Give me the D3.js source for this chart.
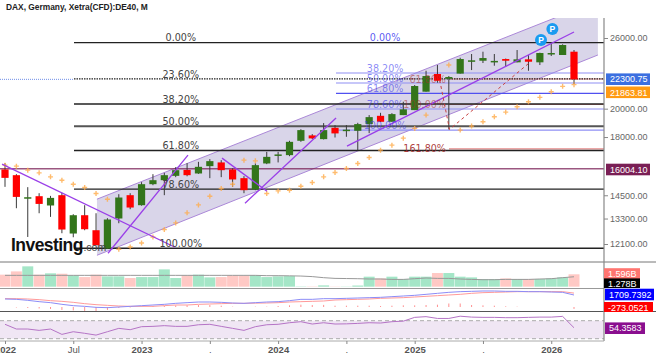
<!DOCTYPE html>
<html lang="en">
<head>
  <meta charset="UTF-8">
  <title>DAX, Germany, Xetra(CFD):DE40, M</title>
  <script src="https://d3js.org/d3.v7.min.js"></script>
  <style>
    body { margin: 0; background: #fff; }
    svg { display: block; }
    text { font-family: "Liberation Sans", Arial, sans-serif; }
    .fib { font-family: "DejaVu Sans", sans-serif; font-size: 9.6px; }
    .axis-label { font-size: 9px; fill: #666; }
    .tag { font-size: 9px; fill: #fff; }
  </style>
</head>
<body>
  <svg width="656" height="355"></svg>

  <script>
    // monthly bars, Jan 2022 - Mar 2026 (index 0..50)
    const opens = [15958,15623,14343,14450,13960,14505,12580,13465,12735,11898,13302,14505,13975,15109,15335,15584,15933,15722,16156,16380,15958,15451,14815,16318,16830,16830,17750,18109,17860,18626,18437,18421,18886,19476,19048,19527,19893,21300,22745,22350,22780,23896,23896,23850,24047,23755,24020,23755,24500,24410,24710];
    const highs = [16336,15682,14943,14612,14467,14628,13515,13975,13564,13317,14558,14612,15223,15682,15759,16094,16336,16416,16583,16520,16030,15566,16318,17037,17037,17750,18530,18195,18957,18816,18816,18977,19527,19695,19670,20522,21834,23023,23517,22575,24164,24500,24710,24500,24090,24865,24410,24620,25588,25398,24865];
    const lows = [14960,13819,12420,13564,13382,12594,12407,12735,12045,11880,13070,13769,13950,15053,14505,15509,15560,15700,15451,15509,14960,14612,14776,16276,16380,16765,17682,17860,17840,17970,18016,17144,18263,19048,19048,19527,19893,21300,22019,18518,22780,23083,23693,23456,23370,23755,23023,23517,24317,24410,21916];
    const closes = [15468,14412,14395,14042,14360,12768,13465,12782,12045,13252,14380,13855,15109,15335,15623,15916,15623,16115,16459,15916,15376,14776,16216,16723,16874,17682,18469,17909,18469,18244,18500,18886,19381,19048,19600,19948,21754,22575,22182,22491,24047,23932,24135,23880,23896,24020,23807,24590,24590,25332,22300.75];

    // parabolic SAR
    const sar = [16216,16156,15916,15759,15525,15335,15109,14925,14597,14290,11867,11968,12147,12420,12768,13086,13583,13991,14450,14869,15109,16520,16476,14597,14737,14776,14997,15205,15525,15782,16016,16318,16687,17144,17467,17927,18585,19527,null,23517,18469,18746,19048,19404,19747,20140,20522,20857,21300,21727,21863.81];

    // volume panel (billions)
    const volumes = [1.55,1.97,2.62,1.55,1.72,1.67,1.46,1.24,1.55,1.33,1.33,1.12,1.24,1.24,2.23,1.12,1.46,1.55,1.2,1.24,1.46,1.42,1.5,1.24,1.33,1.37,0.04,0.04,0.17,0.03,0.03,0.15,1.29,1.07,1.29,0.99,1.29,1.29,1.76,1.76,1.29,1.2,0.99,0.99,1.07,0.99,0.99,0.99,1.07,1.2,1.596];
    const volumeAvg = [1.46,1.46,1.46,1.46,1.46,1.46,1.46,1.46,1.46,1.46,1.46,1.46,1.46,1.46,1.46,1.46,1.46,1.46,1.46,1.46,1.46,1.46,1.46,1.42,1.42,1.4,1.37,1.3,1.16,1.07,1.05,1.03,0.99,0.99,0.94,0.94,1.03,1.12,1.07,1.07,0.99,0.94,0.9,0.9,0.94,0.94,0.94,0.99,1.03,1.16,1.278];

    // MACD panel
    const macd = [1140,1092,950,760,617,380,190,95,-47,-95,0,95,190,285,380,522,617,712,712,665,570,522,617,712,760,902,1092,1092,1187,1187,1235,1282,1330,1377,1472,1567,1662,1805,1947,2090,2185,2232,2280,2280,2232,2232,2185,2185,2137,2090,1709.74];
    const signal = [1187,1187,1140,1045,902,807,665,475,332,237,142,95,95,95,190,285,285,380,427,475,522,522,546,570,617,712,760,807,855,997,1045,1092,1140,1235,1282,1330,1425,1520,1615,1710,1805,1947,2042,2090,2137,2185,2185,2185,2185,2185,1983];
    const macdHist = [0,-70,-140,-210,-280,-420,-480,-560,-720,-420,-140,-70,70,140,170,230,250,280,280,190,50,0,50,50,140,240,330,280,300,190,190,190,190,140,190,240,240,285,330,500,500,285,240,190,95,47,0,0,0,0,-273.05];

    // RSI panel
    const rsi = [62,51.5,51.5,48.5,51.5,39.6,45.5,42,38,45.5,53,50,56.7,57.4,59,57.4,57.4,61,62,57.4,53,48.5,56.7,61,62,65.5,67.8,62.6,65.5,62.6,63,64,65.5,64.8,67.8,69,77.4,79,75,75,80,78,77.4,77.4,76.7,76.7,77.4,78,78,79.6,54.36];

    // axis ticks
    const priceTicks = [26000,20000,18000,14500,13300,12100];
    const timeTicks = [0,6,12,18,24,30,36,42,48];
    const timeLabels = ["2022","Jul","2023",".","2024",".","2025",".","2026"];

    // retracement levels: [label, price]
    const blackFib = [["0.00%",25560],["23.60%",22339],["38.20%",20346],["50.00%",18735],["61.80%",17125],["78.60%",14832],["100.00%",11911]];
    const blueFib = [["0.00%",25560],["38.20%",22828],["50.00%",21995],["61.80%",21170],["78.60%",19975],["100.00%",18469]];
    const redFib = [["61.80%",22327],["100.00%",20310],["161.80%",17228]];
    const supportLevel = 16004.10;

    // hand drawn tools: [month index, price]
    const channelArea = [[8.08,14290],[52.1,29840],[52.1,24410],[8.08,11604]];
    const trendLines = [
      [[-0.26,16276],[14.94,11955]],
      [[9.05,11692],[16.08,16830]],
      [[19.07,16643],[23.02,14722]],
      [[21.09,14079],[29.09,19313]],
      [[30.05,17401],[50,26587]]
    ];
    const dashedPath = [[38.2,22240],[39.06,18518],[46.13,23755]];
    const pivotMarks = [[47.1,25805],[48.1,26885]];

    // right side value tags
    const tags = [
      ["22300.75", 79.2, "#3b6fe0", 606, 44],
      ["21863.81", 92.3, "#ff9a12", 606, 44],
      ["16004.10", 169.5, "#7a1f55", 606, 44],
      ["1.596B", 274, "#ff7570", 604, 36],
      ["1.278B", 284.2, "#000", 604, 36],
      ["1709.7392", 294.5, "#0000ff", 605, 49],
      ["-273.0521", 307.8, "#ff0000", 604, 49],
      ["54.3583", 328.2, "#8a0f8f", 605, 40]
    ];

    const svg = d3.select("svg");
    const plotRight = 604;
    const months = d3.range(closes.length);

    const x = d3.scaleLinear().domain([0, 50]).range([5, 574]);
    const y = d3.scaleLog().domain([26000, 12100]).range([38, 244]);
    const yVolume = d3.scaleLinear().domain([0, 1.596]).range([286.7, 274.3]);
    const yMacd = d3.scaleLinear().domain([0, 1709.74]).range([307, 295]);
    const yRsi = d3.scaleLinear().domain([30, 70]).range([338.7, 320.7]);

    function addClip(id, top, bottom, right) {
      svg.append("clipPath").attr("id", id).append("rect")
        .attr("x", 0).attr("y", top)
        .attr("width", right || plotRight).attr("height", bottom - top);
    }
    addClip("price-clip", 18, 262);
    addClip("volume-clip", 262, 288);
    addClip("macd-clip", 288, 312);
    addClip("rsi-clip", 312, 341);
    addClip("tag-volume-clip", 262, 288, 656);
    addClip("tag-macd-clip", 288, 312, 656);

    const pricePane = svg.append("g").attr("clip-path", "url(#price-clip)");
    const priceLine = d3.line().x(d => x(d[0])).y(d => y(d[1]));

    // channel
    pricePane.append("path")
      .attr("d", priceLine(channelArea) + "Z")
      .attr("fill", "#d9d5e9");
    pricePane.selectAll(".channel-edge")
      .data([channelArea.slice(0, 2), channelArea.slice(2)])
      .join("path")
      .attr("class", "channel-edge")
      .attr("fill", "none")
      .attr("stroke", "#ab88d8")
      .attr("d", priceLine);

    // crosshair at last price
    pricePane.append("line")
      .attr("x1", 0).attr("x2", 74)
      .attr("y1", y(22300.75)).attr("y2", y(22300.75))
      .attr("stroke", "#6f8fe8")
      .attr("stroke-dasharray", "1,1");

    // support line
    pricePane.append("line")
      .attr("x1", 0).attr("x2", plotRight)
      .attr("y1", y(supportLevel)).attr("y2", y(supportLevel))
      .attr("stroke", "#7a1f55")
      .attr("stroke-opacity", 0.75)
      .attr("stroke-width", 1.6);

    // blue retracement
    pricePane.selectAll(".blue-line")
      .data(blueFib.slice(1))
      .join("line")
      .attr("class", "blue-line")
      .attr("x1", 336).attr("x2", plotRight)
      .attr("y1", d => y(d[1])).attr("y2", d => y(d[1]))
      .attr("stroke", d => d[0] === "61.80%" ? "#5050f0" : "#8f8ff4")
      .attr("stroke-width", 1.1);

    // red extension
    pricePane.selectAll(".red-line")
      .data(redFib)
      .join("line")
      .attr("class", "red-line")
      .attr("x1", 449).attr("x2", plotRight)
      .attr("y1", d => y(d[1])).attr("y2", d => y(d[1]))
      .attr("stroke", "#e58a8a")
      .attr("stroke-width", 1.2);

    // black retracement
    pricePane.selectAll(".black-line")
      .data(blackFib)
      .join("line")
      .attr("class", "black-line")
      .attr("x1", 74).attr("x2", plotRight)
      .attr("y1", d => y(d[1])).attr("y2", d => y(d[1]))
      .attr("stroke", d => d[0] === "50.00%" ? "#555" : "#222")
      .attr("stroke-width", d => d[0] === "50.00%" ? 2 : 1.4)
      .attr("stroke-dasharray", d => d[0] === "23.60%" ? "1.5,1" : null);

    // candles
    pricePane.selectAll(".wick")
      .data(months)
      .join("line")
      .attr("class", "wick")
      .attr("x1", i => x(i)).attr("x2", i => x(i))
      .attr("y1", i => y(highs[i])).attr("y2", i => y(lows[i]))
      .attr("stroke", "#3a3a3a");
    pricePane.selectAll(".body")
      .data(months)
      .join("rect")
      .attr("class", "body")
      .attr("x", i => x(i) - 3.6)
      .attr("width", 7.2)
      .attr("y", i => y(Math.max(opens[i], closes[i])))
      .attr("height", i => Math.max(1.5, Math.abs(y(opens[i]) - y(closes[i]))))
      .attr("fill", i => closes[i] < opens[i] ? "#ff0000" : "#33751b");

    // SAR crosses
    pricePane.selectAll(".sar")
      .data(months.filter(i => sar[i] !== null))
      .join("path")
      .attr("class", "sar")
      .attr("d", i => `M${x(i) - 2.5},${y(sar[i])}h5M${x(i)},${y(sar[i]) - 2.5}v5`)
      .attr("stroke", "#ffab4a")
      .attr("stroke-opacity", 0.8)
      .attr("stroke-width", 1.4);

    // trend lines
    pricePane.selectAll(".trend")
      .data(trendLines)
      .join("path")
      .attr("class", "trend")
      .attr("fill", "none")
      .attr("stroke", "#9a3fe8")
      .attr("stroke-width", 1.3)
      .attr("d", priceLine);

    pricePane.append("path")
      .attr("d", priceLine(dashedPath))
      .attr("fill", "none")
      .attr("stroke", "#c8403f")
      .attr("stroke-dasharray", "3,3");

    // fib labels
    pricePane.selectAll(".black-label")
      .data(blackFib)
      .join("text")
      .attr("class", "fib black-label")
      .attr("x", x(15.45))
      .attr("y", d => y(d[1]) - 1.2)
      .attr("text-anchor", "middle")
      .attr("fill", "#444")
      .text(d => d[0]);
    pricePane.selectAll(".blue-label")
      .data(blueFib)
      .join("text")
      .attr("class", "fib blue-label")
      .attr("x", x(33.4))
      .attr("y", d => y(d[1]) - 1.2)
      .attr("text-anchor", "middle")
      .attr("fill", "#3a3af0")
      .attr("fill-opacity", d => d[0] === "0.00%" ? 0.85 : 0.6)
      .text(d => d[0]);
    pricePane.selectAll(".red-label")
      .data(redFib)
      .join("text")
      .attr("class", "fib red-label")
      .attr("x", x(38.75))
      .attr("y", d => y(d[1]) + 3.5)
      .attr("text-anchor", "end")
      .attr("fill", "#a52a2a")
      .attr("fill-opacity", d => d[0] === "161.80%" ? 0.9 : 0.55)
      .text(d => d[0]);

    // pivot marks
    const pivots = pricePane.selectAll(".pivot").data(pivotMarks).join("g")
      .attr("class", "pivot")
      .attr("transform", d => `translate(${x(d[0])},${y(d[1])})`);
    pivots.append("circle").attr("r", 6).attr("fill", "#1a9bf0");
    pivots.append("text")
      .attr("y", 3)
      .attr("text-anchor", "middle")
      .attr("font-size", 8.5)
      .attr("font-weight", "bold")
      .attr("fill", "#fff")
      .text("P");

    // logo
    const logo = svg.append("text").attr("x", 11).attr("y", 251);
    logo.append("tspan")
      .attr("font-size", 17.5)
      .attr("font-weight", "bold")
      .attr("letter-spacing", -0.55)
      .attr("fill", "#111")
      .text("Investing");
    logo.append("tspan")
      .attr("font-size", 10.5)
      .attr("dx", 0.5)
      .attr("fill", "#444")
      .text(".com");

    // volume
    const volumePane = svg.append("g").attr("clip-path", "url(#volume-clip)");
    const barWidth = x(1) - x(0) - 0.4;
    volumePane.selectAll("rect")
      .data(months)
      .join("rect")
      .attr("x", i => x(i) - barWidth / 2)
      .attr("width", barWidth)
      .attr("y", i => yVolume(volumes[i]))
      .attr("height", i => yVolume(0) - yVolume(volumes[i]))
      .attr("fill", i => closes[i] < opens[i] ? "#ffc9c5" : "#a4e6c7");
    volumePane.append("path")
      .datum(months)
      .attr("fill", "none")
      .attr("stroke", "#999")
      .attr("d", d3.line().x(i => x(i)).y(i => yVolume(volumeAvg[i])));

    // macd
    const macdPane = svg.append("g").attr("clip-path", "url(#macd-clip)");
    macdPane.selectAll("rect")
      .data(months.filter(i => macdHist[i] !== 0))
      .join("rect")
      .attr("x", i => x(i) - 0.5)
      .attr("width", 1)
      .attr("y", i => Math.min(yMacd(0), yMacd(macdHist[i])))
      .attr("height", i => Math.abs(yMacd(macdHist[i]) - yMacd(0)))
      .attr("fill", "#ff9090");
    macdPane.append("path")
      .datum(months)
      .attr("fill", "none")
      .attr("stroke", "#ff9a9a")
      .attr("d", d3.line().x(i => x(i)).y(i => yMacd(signal[i])));
    macdPane.append("path")
      .datum(months)
      .attr("fill", "none")
      .attr("stroke", "#8c8cf7")
      .attr("d", d3.line().x(i => x(i)).y(i => yMacd(macd[i])));

    // rsi
    const rsiPane = svg.append("g").attr("clip-path", "url(#rsi-clip)");
    rsiPane.append("rect")
      .attr("x", 0).attr("width", plotRight)
      .attr("y", yRsi(70)).attr("height", yRsi(30) - yRsi(70))
      .attr("fill", "#f0e6f4");
    rsiPane.selectAll("line")
      .data([70, 30])
      .join("line")
      .attr("x1", 0).attr("x2", plotRight)
      .attr("y1", d => yRsi(d)).attr("y2", d => yRsi(d))
      .attr("stroke", "#aaa")
      .attr("stroke-dasharray", "4,3");
    rsiPane.append("path")
      .datum(months)
      .attr("fill", "none")
      .attr("stroke", "#b574c6")
      .attr("d", d3.line().x(i => x(i)).y(i => yRsi(rsi[i])));

    // panel frames
    svg.append("line").attr("x1", 0).attr("x2", 656).attr("y1", 262).attr("y2", 262)
      .attr("stroke", "#777").attr("stroke-width", 1);
    svg.append("line").attr("x1", 0).attr("x2", plotRight).attr("y1", 288.5).attr("y2", 288.5)
      .attr("stroke", "#999").attr("stroke-width", 1);
    svg.append("line").attr("x1", 0).attr("x2", 656).attr("y1", 311.5).attr("y2", 311.5)
      .attr("stroke", "#555").attr("stroke-width", 1.2);
    svg.append("line").attr("x1", plotRight).attr("x2", plotRight).attr("y1", 18).attr("y2", 341)
      .attr("stroke", "#888").attr("stroke-width", 1.2);

    // axes
    const yAxis = d3.axisRight(y)
      .tickValues(priceTicks)
      .tickFormat(d3.format(".2f"))
      .tickSize(4)
      .tickPadding(2);
    const gY = svg.append("g")
      .attr("transform", `translate(${plotRight},0)`)
      .call(yAxis);
    gY.select(".domain").remove();
    gY.selectAll("line").attr("stroke", "#888");
    gY.selectAll("text").attr("class", "axis-label").attr("font-family", null).attr("font-size", null);

    const xAxis = d3.axisBottom(x)
      .tickValues(timeTicks)
      .tickFormat((d, i) => timeLabels[i])
      .tickSize(3)
      .tickPadding(2);
    const gX = svg.append("g")
      .attr("transform", "translate(0,341)")
      .call(xAxis);
    gX.select(".domain").attr("stroke", "#aaa").attr("d", "M0,0H604");
    gX.selectAll("line").attr("stroke", "#888");
    gX.selectAll("text")
      .attr("font-size", 9.5)
      .attr("font-family", null)
      .attr("font-weight", d => d % 12 === 0 ? "bold" : null)
      .attr("fill", "#555");

    // value tags
    const tagGroups = svg.selectAll(".tag-group")
      .data(tags)
      .join("g")
      .attr("class", "tag-group")
      .attr("clip-path", d => d[1] > 262 && d[1] < 288 ? "url(#tag-volume-clip)"
        : d[1] > 288 && d[1] < 312 ? "url(#tag-macd-clip)" : null);
    tagGroups.append("rect")
      .attr("x", d => d[3])
      .attr("y", d => d[1] - 5.8)
      .attr("width", d => d[4])
      .attr("height", 11.6)
      .attr("fill", d => d[2]);
    tagGroups.append("text")
      .attr("class", "tag")
      .attr("x", d => d[3] + 4)
      .attr("y", d => d[1] + 3.2)
      .text(d => d[0]);

    // title
    svg.append("text")
      .attr("x", 6).attr("y", 10)
      .attr("font-size", 8.4)
      .attr("font-weight", "bold")
      .attr("fill", "#222")
      .text("DAX, Germany, Xetra(CFD):DE40, M");
  </script>
</body>
</html>
